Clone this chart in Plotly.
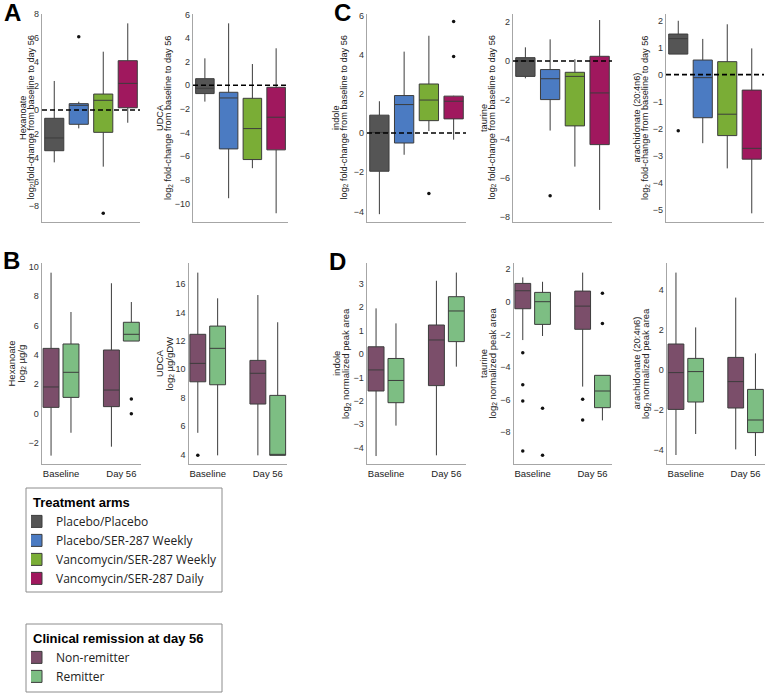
import plotly.graph_objects as go

FONT = "Liberation Sans, Arial, sans-serif"
W, H = 767, 695

ARMS = ["Placebo/Placebo", "Placebo/SER-287 Weekly",
        "Vancomycin/SER-287 Weekly", "Vancomycin/SER-287 Daily"]
ARM_COLORS = ["#555555", "#4b7bc2", "#7aad36", "#a0185e"]

TIMEPOINTS = ["Baseline", "Day 56"]
REMISSION = ["Non-remitter", "Remitter"]
REMISSION_COLORS = ["#7b4e6a", "#7dbe83"]

# fold-change from baseline to day 56: (lower whisker, q1, median, q3, upper whisker) per arm
hexanoate_fc = [(-4.36, -3.39, -2.33, -0.69, 2.42), (-1.53, -1.19, 0.39, 0.53, 0.69),
                (-4.72, -1.86, 0.81, 1.33, 4.86), (-1.06, 0.19, 2.22, 4.11, 7.22)]
hexanoate_fc_out = [[], [6.11], [-8.61], []]
udca_fc = [(-1.38, -0.70, -0.25, 0.56, 2.28), (-9.55, -5.38, -1.07, -0.59, 5.24),
           (-7.01, -6.28, -3.66, -1.10, 1.80), (-10.82, -5.46, -2.70, -0.17, 3.13)]
udca_fc_out = [[], [], [], []]
indole_fc = [(-4.14, -1.95, 0.03, 0.91, 1.62), (-1.11, -0.51, 1.45, 1.91, 4.15),
             (0.10, 0.63, 1.68, 2.50, 4.96), (-0.34, 0.72, 1.62, 1.88, 1.90)]
indole_fc_out = [[], [], [-3.08], [5.69, 3.90]]
taurine_fc = [(-0.89, -0.79, 0.0, 0.17, 0.70), (-3.57, -1.98, -0.91, -0.44, 1.11),
              (-5.42, -3.33, -0.79, -0.58, 0.09), (-7.64, -4.29, -1.64, 0.24, 2.10)]
taurine_fc_out = [[], [-6.91], [], []]
arach_fc = [(0.76, 0.76, 1.33, 1.50, 1.99), (-2.53, -1.59, -0.11, 0.54, 1.32),
            (-3.46, -2.25, -1.46, 0.48, 1.86), (-5.12, -3.12, -2.72, -0.57, 0.97)]
arach_fc_out = [[-2.07], [], [], []]

# levels by remission status: (lower whisker, q1, median, q3, upper whisker) per timepoint
hexanoate_nr = [(-2.86, 0.43, 1.82, 4.45, 9.61), (-2.25, 0.48, 1.61, 4.34, 8.89)]
hexanoate_r = [(-1.30, 1.11, 2.82, 4.75, 6.93), (4.95, 4.95, 5.41, 6.23, 7.61)]
hexanoate_nr_out = [[], []]
hexanoate_r_out = [[], [1.0, 0.0]]
udca_nr = [(5.52, 9.12, 10.42, 12.47, 16.82), (3.93, 7.55, 9.72, 10.63, 15.24)]
udca_r = [(3.93, 8.91, 11.48, 13.05, 15.01), (3.93, 3.93, 3.93, 8.16, 13.32)]
udca_nr_out = [[3.93], []]
udca_r_out = [[], []]
indole_nr = [(-4.36, -1.58, -0.68, 0.31, 1.95), (-4.33, -1.35, 0.60, 1.24, 3.13)]
indole_r = [(-3.06, -2.08, -1.13, -0.19, 1.31), (-0.54, 0.53, 1.84, 2.45, 3.48)]
indole_nr_out = [[], []]
indole_r_out = [[], []]
taurine_nr = [(-2.35, -0.43, 0.67, 1.12, 1.49), (-5.20, -1.69, -0.27, 0.65, 1.78)]
taurine_r = [(-2.10, -1.39, 0.0, 0.57, 1.22), (-7.27, -6.49, -5.47, -4.51, -4.51)]
taurine_nr_out = [[-3.12, -5.08, -6.08, -9.14], [-5.98, -7.24]]
taurine_r_out = [[-6.53, -9.41], [0.51, -1.33]]
arach_nr = [(-4.25, -1.97, -0.13, 1.30, 4.87), (-3.97, -1.90, -0.58, 0.63, 3.62)]
arach_r = [(-3.20, -1.60, -0.08, 0.58, 2.13), (-4.30, -3.13, -2.50, -0.97, 0.83)]
arach_nr_out = [[], []]
arach_r_out = [[], []]

FC_UNIT = "log<sub>2</sub> fold-change from baseline to day 56"
PEAK_UNIT = "log<sub>2</sub> normalized peak area"

# layout of each panel (pixel positions)
top_panels = [
    ("Hexanoate", hexanoate_fc, hexanoate_fc_out, [-9.33, 8.0], 2, (42, 140), (23, 30.5)),
    ("UDCA", udca_fc, udca_fc_out, [-11.56, 6.03], 2, (193, 288), (160, 168)),
    ("indole", indole_fc, indole_fc_out, [-4.54, 6.07], 2, (367, 466), (336, 343.5)),
    ("taurine", taurine_fc, taurine_fc_out, [-8.26, 2.41], 2, (513, 612), (484, 491.5)),
    ("arachidonate (20:4n6)", arach_fc, arach_fc_out, [-5.44, 2.24], 1, (666, 764), (636.5, 645)),
]
bottom_panels = [
    ("Hexanoate", "log<sub>2</sub> µg/g", hexanoate_nr, hexanoate_r, hexanoate_nr_out, hexanoate_r_out,
     [-3.43, 10.27], 2, (41.7, 140.7), (11, 21)),
    ("UDCA", "log<sub>2</sub> µg/gDW", udca_nr, udca_r, udca_nr_out, udca_r_out,
     [3.32, 17.5], 2, (188.5, 287), (159.5, 169)),
    ("indole", PEAK_UNIT, indole_nr, indole_r, indole_nr_out, indole_r_out,
     [-4.70, 3.89], 1, (366.7, 465.7), (336.5, 345.5)),
    ("taurine", PEAK_UNIT, taurine_nr, taurine_r, taurine_nr_out, taurine_r_out,
     [-9.94, 2.37], 2, (513.5, 611.7), (483.5, 492)),
    ("arachidonate (20:4n6)", PEAK_UNIT, arach_nr, arach_r, arach_nr_out, arach_r_out,
     [-4.70, 5.35], 2, (666.7, 764.7), (636, 645.5)),
]
TOP_Y = (14, 222)
BOT_Y = (263, 464)
LINE = "#3c3c3c"
AXIS = "#a6a6a6"


def fx(p):
    return p / W


def fy(p):
    return 1 - p / H


def sfx(n):
    return "" if n == 1 else str(n)


fig = go.Figure()
layout = {}
annotations = []
shapes = []


def axis_style(n, rng, dom_x, dom_y):
    xd = dict(domain=[fx(dom_x[0]), fx(dom_x[1])], anchor=f"y{sfx(n)}", showline=True,
              linecolor=AXIS, linewidth=1.2, showgrid=False, zeroline=False, ticks="",
              fixedrange=True)
    yd = dict(domain=[fy(dom_y[1]), fy(dom_y[0])], anchor=f"x{sfx(n)}", range=rng, showline=True,
              linecolor=AXIS, linewidth=1.2, showgrid=False, zeroline=False, ticks="",
              fixedrange=True, tickfont=dict(size=9, color="#333", family=FONT))
    return xd, yd


def add_title(name, unit, xs, dom_y, size):
    yc = fy((dom_y[0] + dom_y[1]) / 2)
    for txt, xc in ((name, xs[0]), (unit, xs[1])):
        annotations.append(dict(text=txt, x=fx(xc), y=yc, xref="paper", yref="paper",
                                xanchor="center", yanchor="middle", textangle=-90, showarrow=False,
                                font=dict(size=size, color="#222", family=FONT)))


n = 0
for name, stats, outs, rng, dt, dom_x, tx in top_panels:
    n += 1
    xa, ya = f"x{sfx(n)}", f"y{sfx(n)}"
    xd, yd = axis_style(n, rng, dom_x, TOP_Y)
    xd.update(type="category", categoryorder="array", categoryarray=ARMS,
              range=[-0.5, 3.5], showticklabels=False)
    yd.update(tickmode="linear", tick0=0, dtick=dt)
    layout[f"xaxis{sfx(n)}"] = xd
    layout[f"yaxis{sfx(n)}"] = yd
    for j, arm in enumerate(ARMS):
        lo, q1, med, q3, hi = stats[j]
        fig.add_trace(go.Box(x=[arm], q1=[q1], median=[med], q3=[q3], lowerfence=[lo],
                             upperfence=[hi], name=arm, fillcolor=ARM_COLORS[j],
                             line=dict(color=LINE, width=1), whiskerwidth=0, width=0.78,
                             offsetgroup="arm", boxpoints=False, xaxis=xa, yaxis=ya,
                             showlegend=(n == 1), legend="legend", hoverinfo="skip"))
    ox = [arm for arm, vals in zip(ARMS, outs) for v in vals]
    oy = [v for vals in outs for v in vals]
    if oy:
        fig.add_trace(go.Scatter(x=ox, y=oy, mode="markers", marker=dict(size=3.5, color="#111"),
                                 offsetgroup="arm", xaxis=xa, yaxis=ya, showlegend=False,
                                 hoverinfo="skip"))
    shapes.append(dict(type="line", xref=f"{xa} domain", yref=ya, x0=0, x1=1, y0=0, y1=0,
                       line=dict(color="black", width=1.6, dash="5px,3px")))
    add_title(name, FC_UNIT, tx, TOP_Y, 9.2)

for name, unit, nr, r, nr_out, r_out, rng, dt, dom_x, tx in bottom_panels:
    n += 1
    xa, ya = f"x{n}", f"y{n}"
    xd, yd = axis_style(n, rng, dom_x, BOT_Y)
    xd.update(type="category", categoryorder="array", categoryarray=TIMEPOINTS,
              range=[-0.32, 1.32], tickfont=dict(size=9.5, color="#222", family=FONT))
    yd.update(tickmode="linear", tick0=0, dtick=dt)
    layout[f"xaxis{n}"] = xd
    layout[f"yaxis{n}"] = yd
    for g, (grp, stats) in enumerate(zip(REMISSION, (nr, r))):
        fig.add_trace(go.Box(x=TIMEPOINTS, q1=[s[1] for s in stats], median=[s[2] for s in stats],
                             q3=[s[3] for s in stats], lowerfence=[s[0] for s in stats],
                             upperfence=[s[4] for s in stats], name=grp, offsetgroup=grp,
                             fillcolor=REMISSION_COLORS[g], line=dict(color=LINE, width=1),
                             whiskerwidth=0, boxpoints=False, xaxis=xa, yaxis=ya,
                             showlegend=(n == 6), legend="legend2", hoverinfo="skip"))
    for g, (grp, outs) in enumerate(zip(REMISSION, (nr_out, r_out))):
        ox = [tp for tp, vals in zip(TIMEPOINTS, outs) for v in vals]
        oy = [v for vals in outs for v in vals]
        if not oy:
            ox, oy = [None], [None]
        fig.add_trace(go.Scatter(x=ox, y=oy, mode="markers", marker=dict(size=3.5, color="#111"),
                                 offsetgroup=grp, xaxis=xa, yaxis=ya, showlegend=False,
                                 hoverinfo="skip"))
    add_title(name, unit, tx, BOT_Y, 9.5)

for letter, cx, cy in (("A", 12, 12), ("B", 11, 260), ("C", 342, 12), ("D", 337, 262)):
    annotations.append(dict(text=f"<b>{letter}</b>", x=fx(cx), y=fy(cy), xref="paper", yref="paper",
                            xanchor="center", yanchor="middle", showarrow=False,
                            font=dict(size=24, color="black", family=FONT)))

# legend frames
for top, bottom in ((488, 592), (624, 692)):
    shapes.append(dict(type="rect", xref="paper", yref="paper", x0=fx(26), x1=fx(222),
                       y0=fy(bottom), y1=fy(top), line=dict(color="#8c8c8c", width=1),
                       layer="below"))

legend_style = dict(xanchor="left", yanchor="top", bgcolor="rgba(0,0,0,0)", borderwidth=0,
                    font=dict(size=12, color="#222", family="Open Sans"),
                    tracegroupgap=0, indentation=-15, itemclick=False, itemdoubleclick=False)

fig.update_layout(
    width=W, height=H, margin=dict(l=0, r=0, t=0, b=0, autoexpand=False),
    paper_bgcolor="white", plot_bgcolor="white",
    font=dict(family=FONT, color="#222"),
    boxmode="group", boxgap=0.34, boxgroupgap=0.2,
    scattermode="group", scattergap=0.34,
    legend=dict(x=fx(31), y=fy(490),
                title=dict(text="<b>Treatment arms</b>", font=dict(size=13, color="black", family=FONT)),
                **legend_style),
    legend2=dict(x=fx(31), y=fy(626),
                 title=dict(text="<b>Clinical remission at day 56</b>",
                            font=dict(size=13, color="black", family=FONT)),
                 **legend_style),
    annotations=annotations, shapes=shapes, showlegend=True,
    **layout,
)

fig.write_html("out.html", config={"displayModeBar": False},
               post_script="document.body.style.margin = '0px';")
